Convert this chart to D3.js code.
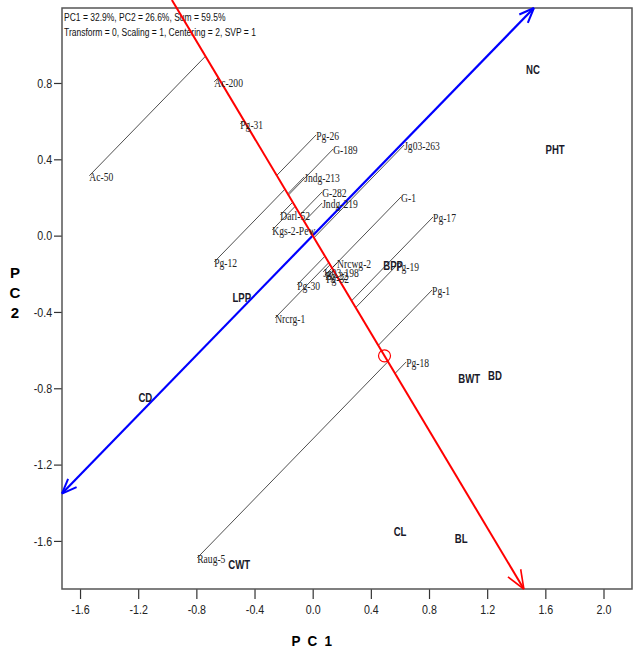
<!DOCTYPE html>
<html>
<head>
<meta charset="utf-8">
<script src="https://cdn.jsdelivr.net/npm/d3@7"></script>
<style>
  body { margin: 0; background: #fff; }
  svg { display: block; }
</style>
</head>
<body>
<div id="app"></div>
<script>
// genotype scores (PC1, PC2)
const genotypes = ["Ac-200", "Pg-31", "Ac-50", "Pg-26", "G-189", "Jg03-263", "Jndg-213", "G-282", "Jndg-219", "Darl-52", "Kgs-2-Pew", "G-1", "Pg-17", "Pg-12", "Nrcwg-2", "Pg-19", "Jg03-198", "Pg-22", "Pg-32", "Pg-30", "Nrcrg-1", "Pg-1", "Pg-18", "Raug-5"];
const genoPC1 = [-0.677, -0.498, -1.536, 0.024, 0.141, 0.629, -0.058, 0.065, 0.065, -0.223, -0.278, 0.608, 0.828, -0.677, 0.168, 0.574, 0.072, 0.086, 0.093, -0.107, -0.258, 0.821, 0.643, -0.794];
const genoPC2 = [0.806, 0.585, 0.314, 0.528, 0.454, 0.475, 0.308, 0.229, 0.171, 0.108, 0.03, 0.203, 0.098, -0.138, -0.143, -0.159, -0.19, -0.206, -0.222, -0.258, -0.431, -0.285, -0.662, -1.689];

// environment scores
const environments = ["NC", "PHT", "BWT", "BD", "CD", "LPP", "CL", "BL", "CWT", "BPP"];
const envPC1 = [1.515, 1.667, 1.076, 1.254, -1.151, -0.488, 0.601, 1.021, -0.505, 0.553];
const envPC2 = [0.874, 0.454, -0.746, -0.73, -0.845, -0.321, -1.548, -1.584, -1.721, -0.154];

// average environment
const avgEnv = [0.494, -0.63];

const xTicks = [-1.6, -1.2, -0.8, -0.4, 0.0, 0.4, 0.8, 1.2, 1.6, 2.0];
const yTicks = [0.8, 0.4, 0.0, -0.4, -0.8, -1.2, -1.6];
const infoLines = ["PC1 = 32.9%, PC2 = 26.6%, Sum = 59.5%", "Transform = 0, Scaling = 1, Centering = 2, SVP = 1"];

const width = 633;
const height = 651;
const plotLeft = 62, plotRight = 632, plotTop = 8, plotBottom = 589;

const x = d3.scaleLinear().domain([-1.724, 2.196]).range([plotLeft, plotRight]);
const y = d3.scaleLinear().domain([-1.852, 1.193]).range([plotBottom, plotTop]);

const svg = d3
  .select("#app")
  .append("svg")
  .attr("width", width)
  .attr("height", height);

// axes
const xAxis = d3.axisBottom(x).tickValues(xTicks).tickFormat(d => d.toFixed(1)).tickSize(10).tickPadding(6);
const yAxis = d3.axisLeft(y).tickValues(yTicks).tickFormat(d => d.toFixed(1)).tickSize(8).tickPadding(4);

const gx = svg.append("g").attr("transform", `translate(0, ${plotBottom})`).call(xAxis);
const gy = svg.append("g").attr("transform", `translate(${plotLeft}, 0)`).call(yAxis);

[gx, gy].forEach(g => {
  g.select(".domain").remove();
  g.selectAll("line").attr("stroke", "#333").attr("stroke-width", 1.2);
  g.selectAll("text")
    .attr("fill", "#222")
    .attr("transform", "scale(0.82,1)")
    .style("font-family", "'Liberation Sans', Arial, sans-serif")
    .style("font-size", "13px");
});

// frame
svg.append("rect")
  .attr("x", plotLeft)
  .attr("y", plotTop)
  .attr("width", plotRight - plotLeft)
  .attr("height", plotBottom - plotTop)
  .attr("fill", "none")
  .attr("stroke", "#555")
  .attr("stroke-width", 1.5);

// axis titles
svg.append("text")
  .attr("transform", `translate(${x(0)}, 646) scale(0.9,1)`)
  .attr("text-anchor", "middle")
  .style("font-family", "'Liberation Sans', Arial, sans-serif")
  .style("font-weight", "bold")
  .style("font-size", "15px")
  .style("letter-spacing", "2px")
  .text("P C 1");

svg.append("g")
  .selectAll("text")
  .data(["P", "C", "2"])
  .enter()
  .append("text")
  .attr("x", 15)
  .attr("y", (d, i) => 278 + i * 20)
  .attr("text-anchor", "middle")
  .style("font-family", "'Liberation Sans', Arial, sans-serif")
  .style("font-weight", "bold")
  .style("font-size", "15px")
  .text(d => d);

// info text
svg.append("g")
  .selectAll("text")
  .data(infoLines)
  .enter()
  .append("text")
  .attr("transform", (d, i) => `translate(${plotLeft + 2}, ${21 + i * 15}) scale(0.74,1)`)
  .style("font-family", "'Liberation Sans', Arial, sans-serif")
  .style("font-size", "11.5px")
  .attr("fill", "#111")
  .text(d => d);

// direction of the average environment axis and its perpendicular
const len = Math.hypot(avgEnv[0], avgEnv[1]);
const u = [avgEnv[0] / len, avgEnv[1] / len];
const v = [-u[1], u[0]];

// projection lines from genotypes onto the red axis
const genoData = genotypes.map((name, i) => {
  const p = [genoPC1[i], genoPC2[i]];
  const t = p[0] * u[0] + p[1] * u[1];
  return { name, p, q: [t * u[0], t * u[1]] };
});

svg.append("g")
  .selectAll("line")
  .data(genoData)
  .enter()
  .append("line")
  .attr("x1", d => x(d.p[0]))
  .attr("y1", d => y(d.p[1]))
  .attr("x2", d => x(d.q[0]))
  .attr("y2", d => y(d.q[1]))
  .attr("stroke", "#222")
  .attr("stroke-width", 0.8);

const arrowHead = (g, tip, from, color, size, sw) => {
  const a = Math.atan2(from[1] - tip[1], from[0] - tip[0]);
  [-0.38, 0.38].forEach(da => {
    g.append("line")
      .attr("x1", tip[0])
      .attr("y1", tip[1])
      .attr("x2", tip[0] + size * Math.cos(a + da))
      .attr("y2", tip[1] + size * Math.sin(a + da))
      .attr("stroke", color)
      .attr("stroke-width", sw);
  });
};

// blue line, clipped to the frame
const [x0, x1] = x.domain();
const [y0, y1] = y.domain();
const tMin = Math.max(x0 / v[0], y0 / v[1]);
const tMax = Math.min(x1 / v[0], y1 / v[1]);
const bA = [x(tMin * v[0]), y(tMin * v[1])];
const bB = [x(tMax * v[0]), y(tMax * v[1])];
const blue = svg.append("g");
blue.append("line")
  .attr("x1", bA[0]).attr("y1", bA[1])
  .attr("x2", bB[0]).attr("y2", bB[1])
  .attr("stroke", "#0000ff")
  .attr("stroke-width", 2.2);
arrowHead(blue, bA, bB, "#0000ff", 16, 2);
arrowHead(blue, bB, bA, "#0000ff", 16, 2);

// red line, from the top of the picture down to the frame bottom
const tTop = y.invert(0) / u[1];
const tBot = y0 / u[1];
const rA = [x(tTop * u[0]), y(tTop * u[1])];
const rB = [x(tBot * u[0]), y(tBot * u[1])];
const red = svg.append("g");
red.append("line")
  .attr("x1", rA[0]).attr("y1", rA[1])
  .attr("x2", rB[0]).attr("y2", rB[1])
  .attr("stroke", "#ff0000")
  .attr("stroke-width", 2);
arrowHead(red, rB, rA, "#ff0000", 20, 1.6);

red.append("circle")
  .attr("cx", x(avgEnv[0]))
  .attr("cy", y(avgEnv[1]))
  .attr("r", 6)
  .attr("fill", "none")
  .attr("stroke", "#ff0000")
  .attr("stroke-width", 1.2);

// genotype labels
svg.append("g")
  .selectAll("text")
  .data(genoData)
  .enter()
  .append("text")
  .attr("transform", d => `translate(${x(d.p[0])}, ${y(d.p[1]) + 5}) scale(0.71,1)`)
  .style("font-family", "'Liberation Serif', 'Times New Roman', serif")
  .style("font-size", "13.5px")
  .attr("fill", "#222")
  .text(d => d.name);

// environment labels
svg.append("g")
  .selectAll("text")
  .data(environments)
  .enter()
  .append("text")
  .attr("transform", (d, i) => `translate(${x(envPC1[i])}, ${y(envPC2[i]) + 5}) scale(0.74,1)`)
  .attr("text-anchor", "middle")
  .style("font-family", "'Liberation Sans', Arial, sans-serif")
  .style("font-weight", "bold")
  .style("font-size", "13px")
  .attr("fill", "#1a1a2a")
  .text(d => d);
</script>
</body>
</html>
